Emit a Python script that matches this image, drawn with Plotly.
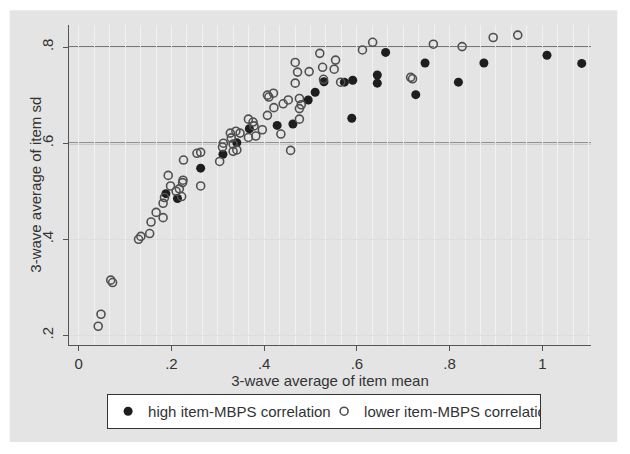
import plotly.graph_objects as go

# ---- data ----
high_x = [0.188, 0.213, 0.263, 0.311, 0.341, 0.368, 0.428, 0.462, 0.495, 0.510,
          0.529, 0.573, 0.591, 0.589, 0.644, 0.644, 0.662, 0.727, 0.747, 0.819,
          0.874, 1.010, 1.085]
high_y = [0.495, 0.485, 0.548, 0.577, 0.601, 0.630, 0.637, 0.640, 0.690, 0.706,
          0.728, 0.727, 0.731, 0.652, 0.742, 0.725, 0.789, 0.701, 0.767, 0.727,
          0.767, 0.783, 0.766]

low_x = [0.042, 0.048, 0.069, 0.073, 0.129, 0.134, 0.153, 0.156, 0.167, 0.182,
         0.182, 0.185, 0.193, 0.198, 0.210, 0.217, 0.222, 0.224, 0.225, 0.226,
         0.255, 0.263, 0.263, 0.304, 0.310, 0.312, 0.327, 0.329, 0.333, 0.339,
         0.341, 0.348, 0.333, 0.366, 0.366, 0.376, 0.378, 0.382, 0.396, 0.407,
         0.407, 0.410, 0.420, 0.421, 0.436, 0.441, 0.452, 0.457, 0.467, 0.472,
         0.467, 0.476, 0.480, 0.476, 0.476, 0.497, 0.520, 0.526, 0.528, 0.551,
         0.554, 0.565, 0.612, 0.634, 0.716, 0.720, 0.765, 0.827, 0.894, 0.947]
low_y = [0.219, 0.244, 0.315, 0.310, 0.400, 0.406, 0.412, 0.436, 0.456, 0.445,
         0.475, 0.487, 0.533, 0.511, 0.500, 0.505, 0.489, 0.518, 0.523, 0.565,
         0.579, 0.581, 0.511, 0.562, 0.592, 0.600, 0.621, 0.611, 0.583, 0.625,
         0.586, 0.621, 0.598, 0.650, 0.612, 0.644, 0.636, 0.615, 0.628, 0.658,
         0.700, 0.696, 0.704, 0.674, 0.619, 0.682, 0.690, 0.585, 0.768, 0.748,
         0.725, 0.693, 0.680, 0.672, 0.650, 0.749, 0.787, 0.758, 0.733, 0.754,
         0.773, 0.727, 0.794, 0.810, 0.737, 0.734, 0.806, 0.801, 0.820, 0.825]

x_ticks = [0, 0.2, 0.4, 0.6, 0.8, 1]
x_tick_labels = ["0", ".2", ".4", ".6", ".8", "1"]
y_ticks = [0.2, 0.4, 0.6, 0.8]
y_tick_labels = [".2", ".4", ".6", ".8"]
dark_grid = [0.6, 0.8]

FONT = "Liberation Sans, Arial, sans-serif"
TXT = "#333333"

fig = go.Figure()
fig.add_trace(go.Scatter(
    x=high_x, y=high_y, mode="markers", name="high item-MBPS correlation",
    marker=dict(symbol="circle", size=9, color="#1e1e1e", line=dict(width=0)),
))
fig.add_trace(go.Scatter(
    x=low_x, y=low_y, mode="markers", name="lower item-MBPS correlation",
    marker=dict(symbol="circle-open", size=8, color="#505050",
                line=dict(width=1.6, color="#505050")),
))

# light-grey backdrop around the plot region
fig.add_shape(type="rect", xref="paper", yref="paper",
              x0=-0.1137, x1=1.0504, y0=-0.3028, y1=1.0459,
              fillcolor="#e4e4e4", line=dict(width=0), layer="below")
for g in dark_grid:
    fig.add_shape(type="line", xref="paper", yref="y", x0=0, x1=1, y0=g, y1=g,
                  line=dict(color="#777777", width=2), layer="between")

fig.add_annotation(text="3-wave average of item sd", xref="paper", yref="paper",
                   x=-0.0658, y=0.5, xanchor="center", yanchor="middle",
                   textangle=-90, showarrow=False,
                   font=dict(size=15, color=TXT, family=FONT))

fig.update_layout(
    width=630, height=454,
    margin=dict(l=61, r=47, t=17, b=117, autoexpand=False),
    paper_bgcolor="white", plot_bgcolor="white",
    font=dict(family=FONT, size=15, color=TXT),
    showlegend=True,
    legend=dict(orientation="h", x=0.073, y=-0.153, xanchor="left", yanchor="top",
                bgcolor="white", bordercolor="#333333", borderwidth=1,
                font=dict(size=15, color=TXT), tracegroupgap=0, itemwidth=30,
                entrywidth=171, entrywidthmode="pixels"),
    xaxis=dict(range=[-0.021, 1.105], tickvals=x_ticks, ticktext=x_tick_labels,
               automargin=False,
               showgrid=False, zeroline=False, showline=True, linecolor="#555555",
               linewidth=1.2, ticks="outside", ticklen=5, tickcolor="#555555",
               tickfont=dict(size=15, color=TXT),
               title=dict(text="3-wave average of item mean", standoff=4,
                          font=dict(size=15, color=TXT)),
               minor=dict(dtick=1/30, showgrid=True, gridcolor="#f1f1f1", gridwidth=1)),
    yaxis=dict(range=[0.18, 0.846], tickvals=y_ticks, ticktext=y_tick_labels,
               automargin=False, ticklabelstandoff=4,
               tickangle=-90, showgrid=True, gridcolor="#dedede", gridwidth=1,
               zeroline=False, showline=True, linecolor="#555555", linewidth=1.2,
               ticks="outside", ticklen=5, tickcolor="#555555",
               tickfont=dict(size=15, color=TXT)),
)

fig.write_html("out.html")
